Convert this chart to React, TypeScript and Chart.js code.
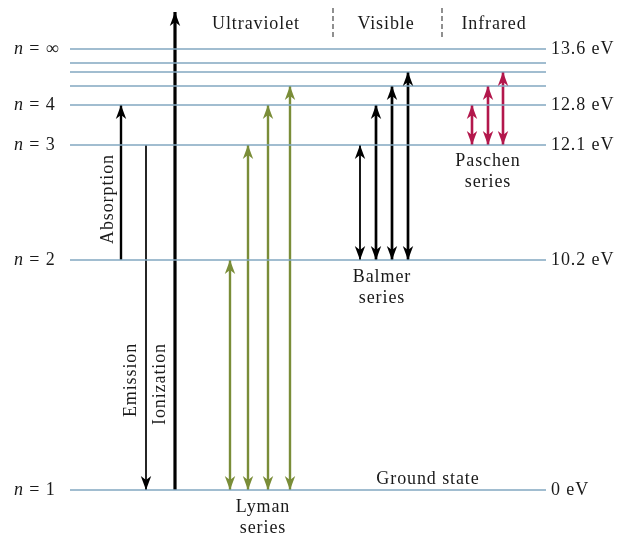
import React, { useEffect, useRef } from 'react';
import { Chart, registerables } from 'chart.js';
Chart.register(...registerables);

// Energy levels of hydrogen (schematic heights)
const levelNames = ['1', '2', '3', '4', '5', '6', '7', '∞'];
const levelHeights = [0, 230, 345, 385, 404, 418, 427, 441];
const levelLabelled = ['1', '2', '3', '4', '∞'];
const energyLabels = ['0 eV', '10.2 eV', '12.1 eV', '12.8 eV', '', '', '', '13.6 eV'];

// Series transitions
const lymanX = [230, 248, 268, 290];
const lymanUpper = ['2', '3', '4', '5'];
const balmerX = [360, 376, 392, 408];
const balmerUpper = ['3', '4', '5', '6'];
const paschenX = [472, 488, 503];
const paschenUpper = ['4', '5', '6'];

// Single processes
const processNames = ['Absorption', 'Emission', 'Ionization'];
const processX = [121, 146, 175];
const processFrom = ['2', '3', '1'];
const processTo = ['4', '1', 'top'];

const regionNames = ['Ultraviolet', 'Visible', 'Infrared'];

const LEVEL_COLOR = '#82a7c1';
const LYMAN_COLOR = '#7a8d38';
const PASCHEN_COLOR = '#b3174c';
const FONT = '"Liberation Serif", "Times New Roman", serif';

const h = (n: string) => (n === 'top' ? 478 : levelHeights[levelNames.indexOf(n)]);

export default function App() {
  const ref = useRef<HTMLCanvasElement | null>(null);
  useEffect(() => {
    document.body.style.margin = '0';
    const canvas = ref.current;
    if (!canvas) return;
    const datasets: any[] = [];
    levelNames.forEach((n) => {
      datasets.push({
        data: [{ x: 70, y: h(n) }, { x: 546, y: h(n) }],
        borderColor: LEVEL_COLOR,
        borderWidth: 1.4,
      });
    });
    const arrow = (x: number, a: string, b: string, color: string, width: number, heads: string) => {
      datasets.push({
        data: [{ x, y: h(a) }, { x, y: h(b) }],
        borderColor: color,
        borderWidth: width,
        heads,
        headColor: color,
      });
    };
    // dashed separators
    [333, 442].forEach((x) => {
      datasets.push({
        data: [{ x, y: 482 }, { x, y: 453 }],
        borderColor: '#555',
        borderWidth: 1.3,
        borderDash: [5, 3],
      });
    });
    arrow(processX[0], processFrom[0], processTo[0], '#000', 2.4, 'end');
    arrow(processX[1], processFrom[1], processTo[1], '#000', 1.7, 'end');
    arrow(processX[2], processFrom[2], processTo[2], '#000', 3.2, 'end');
    lymanX.forEach((x, i) => arrow(x, '1', lymanUpper[i], LYMAN_COLOR, 2.4, 'both'));
    balmerX.forEach((x, i) => arrow(x, '2', balmerUpper[i], '#000', i === 0 ? 1.8 : 2.7, 'both'));
    paschenX.forEach((x, i) => arrow(x, '3', paschenUpper[i], PASCHEN_COLOR, 2.6, 'both'));

    const headPlugin = {
      id: 'heads',
      afterDatasetsDraw(chart: any) {
        const ctx = chart.ctx;
        const xs = chart.scales.x;
        const ys = chart.scales.y;
        chart.data.datasets.forEach((ds: any) => {
          if (!ds.heads) return;
          const p0 = { x: xs.getPixelForValue(ds.data[0].x), y: ys.getPixelForValue(ds.data[0].y) };
          const p1 = { x: xs.getPixelForValue(ds.data[1].x), y: ys.getPixelForValue(ds.data[1].y) };
          const draw = (tip: any, from: any) => {
            const dx = tip.x - from.x;
            const dy = tip.y - from.y;
            const len = Math.hypot(dx, dy) || 1;
            const ux = dx / len, uy = dy / len;
            const nx = -uy, ny = ux;
            const L = 14, W = 5.2, N = 4;
            ctx.save();
            ctx.fillStyle = ds.headColor;
            ctx.beginPath();
            ctx.moveTo(tip.x, tip.y);
            ctx.lineTo(tip.x - L * ux + W * nx, tip.y - L * uy + W * ny);
            ctx.lineTo(tip.x - (L - N) * ux, tip.y - (L - N) * uy);
            ctx.lineTo(tip.x - L * ux - W * nx, tip.y - L * uy - W * ny);
            ctx.closePath();
            ctx.fill();
            ctx.restore();
          };
          draw(p1, p0);
          if (ds.heads === 'both') draw(p0, p1);
        });
      },
    };

    const textPlugin = {
      id: 'texts',
      afterDraw(chart: any) {
        const ctx = chart.ctx;
        const xs = chart.scales.x;
        const ys = chart.scales.y;
        const X = (v: number) => xs.getPixelForValue(v);
        const Y = (v: number) => ys.getPixelForValue(v);
        ctx.save();
        ctx.fillStyle = '#1a1a1a';
        ctx.textBaseline = 'middle';
        (ctx as any).letterSpacing = '0.9px';
        const font = (s: number, italic = false) => `${italic ? 'italic ' : ''}${s}px ${FONT}`;
        const text = (t: string, x: number, y: number, align: CanvasTextAlign = 'center', size = 18) => {
          ctx.font = font(size);
          ctx.textAlign = align;
          ctx.fillText(t, x, y);
        };
        // left labels n = ...
        levelLabelled.forEach((n) => {
          const y = Y(h(n));
          ctx.textAlign = 'left';
          ctx.font = font(18, true);
          ctx.fillText('n', 14, y);
          const w = ctx.measureText('n').width;
          ctx.font = font(18);
          ctx.fillText(' = ' + n, 14 + w, y);
        });
        // right labels eV
        levelNames.forEach((n, i) => {
          if (energyLabels[i]) text(energyLabels[i], 551, Y(h(n)), 'left');
        });
        // region labels
        text(regionNames[0], X(256), Y(466));
        text(regionNames[1], X(386), Y(466));
        text(regionNames[2], X(494), Y(466));
        // series labels
        text('Paschen', X(488), Y(329));
        text('series', X(488), Y(308));
        text('Balmer', X(382), Y(213));
        text('series', X(382), Y(192));
        text('Lyman', X(263), Y(-17));
        text('series', X(263), Y(-38));
        text('Ground state', X(428), Y(11));
        // rotated labels
        const vtext = (t: string, x: number, y: number) => {
          ctx.save();
          ctx.translate(X(x), Y(y));
          ctx.rotate(-Math.PI / 2);
          ctx.font = font(18);
          ctx.textAlign = 'center';
          ctx.fillText(t, 0, 0);
          ctx.restore();
        };
        vtext(processNames[0], 108, 291);
        vtext(processNames[1], 131, 110);
        vtext(processNames[2], 160, 106);
        ctx.restore();
      },
    };

    const chart = new Chart(canvas, {
      type: 'scatter',
      data: { datasets },
      options: {
        responsive: false,
        animation: false,
        showLine: true,
        layout: { padding: 0 },
        elements: { point: { radius: 0, hoverRadius: 0 }, line: { tension: 0 } },
        plugins: { legend: { display: false }, tooltip: { enabled: false } },
        scales: {
          x: { type: 'linear', min: 0, max: 623, display: false },
          y: { type: 'linear', min: -47, max: 490, display: false },
        },
      } as any,
      plugins: [headPlugin, textPlugin],
    });
    return () => chart.destroy();
  }, []);
  return <canvas ref={ref} width={623} height={537} style={{ display: 'block' }} />;
}
